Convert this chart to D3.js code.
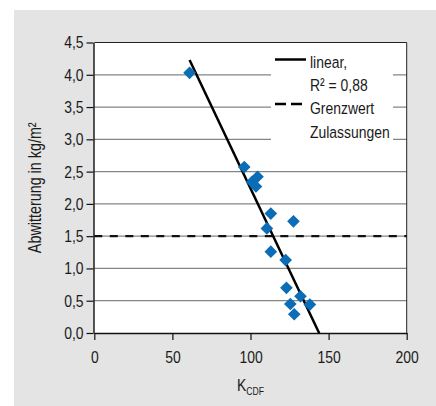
<!DOCTYPE html>
<html>
<head>
<meta charset="utf-8">
<script src="https://cdn.jsdelivr.net/npm/d3@7"></script>
<style>
  html, body { margin: 0; padding: 0; background: #fff; }
  svg { display: block; }
  text { font-family: "Liberation Sans", Arial, sans-serif; fill: #1a1a1a; }
</style>
</head>
<body>
<svg id="chart" width="436" height="406"></svg>
<script>
// Measured samples: K_CDF vs. scaling (Abwitterung) in kg/m²
const kcdf        = [61, 96, 104.5, 101, 103.5, 113, 127.5, 110.5, 113, 122.5, 123, 132, 138, 125.5, 128];
const abwitterung = [4.03, 2.57, 2.42, 2.34, 2.27, 1.85, 1.73, 1.62, 1.26, 1.13, 0.70, 0.57, 0.44, 0.45, 0.29];

// Axis ticks
const xTicks = [0, 50, 100, 150, 200];
const yTicks = [0, 0.5, 1, 1.5, 2, 2.5, 3, 3.5, 4, 4.5];

// Linear fit (R² = 0,88) and its drawn range of K_CDF
const fitSlope = -0.051;
const fitIntercept = 7.34;
const fitRange = [61, 144];

// Limit value for approvals
const grenzwert = 1.5;

// Legend rows
const legendSolid = ["linear,", "R² = 0,88"];
const legendDashed = ["Grenzwert", "Zulassungen"];

const svg = d3.select("#chart");
const W = 436, H = 406;
const NARROW = 0.82;   // horizontal squeeze for a condensed type look
const FS = 17;

const x = d3.scaleLinear().domain([0, 200]).range([94.3, 406.7]);
const y = d3.scaleLinear().domain([0, 4.5]).range([333, 42.5]);

const de = d3.formatLocale({ decimal: ",", thousands: ".", grouping: [3], currency: ["", "€"] });
const fmtY = de.format(".1f");

// Condense a text element placed by its x attribute
function condense(sel) {
  sel.each(function () {
    const t = d3.select(this);
    const xv = +t.attr("x") || 0;
    t.attr("x", xv / NARROW).attr("transform", `scale(${NARROW},1)`);
  });
}

// Grey panel
svg.append("rect").attr("x", 14).attr("y", 10).attr("width", W - 14).attr("height", H - 10).attr("fill", "#e3e4e3");

// Plot area
const [x0, x1] = x.range();
const [yb, yt] = y.range();
svg.append("rect").attr("x", x0).attr("y", yt).attr("width", x1 - x0).attr("height", yb - yt).attr("fill", "#fff");

// Horizontal gridlines
svg.append("g").selectAll("line").data(yTicks.filter(v => v > 0 && v < 4.5)).join("line")
  .attr("x1", x0).attr("x2", x1)
  .attr("y1", d => y(d)).attr("y2", d => y(d))
  .attr("stroke", "#858585").attr("stroke-width", 1.2);

// Legend background (covers gridlines)
svg.append("rect").attr("x", 271).attr("y", yt + 1).attr("width", 122).attr("height", 99).attr("fill", "#fff");

// Frame: top and right
svg.append("line").attr("x1", x0).attr("x2", x1).attr("y1", yt).attr("y2", yt).attr("stroke", "#222").attr("stroke-width", 1);
svg.append("line").attr("x1", x1).attr("x2", x1).attr("y1", yt).attr("y2", yb).attr("stroke", "#222").attr("stroke-width", 1);

// Limit line
svg.append("line")
  .attr("x1", x0).attr("x2", x1)
  .attr("y1", y(grenzwert)).attr("y2", y(grenzwert))
  .attr("stroke", "#111").attr("stroke-width", 2.2).attr("stroke-dasharray", "8,7.5");

// Axes
const yAxis = svg.append("g").attr("transform", `translate(${x0 - 0.8},0)`)
  .call(d3.axisLeft(y).tickValues(yTicks).tickFormat(fmtY).tickSize(7).tickSizeOuter(0).tickPadding(3));
const xAxis = svg.append("g").attr("transform", `translate(0,${yb})`)
  .call(d3.axisBottom(x).tickValues(xTicks).tickFormat(d3.format("d")).tickSize(7).tickSizeOuter(0).tickPadding(11));
[yAxis, xAxis].forEach(g => {
  g.selectAll("path.domain").attr("stroke", "#111").attr("stroke-width", 1.4);
  g.selectAll(".tick line").attr("stroke", "#111").attr("stroke-width", 1.2);
  g.selectAll(".tick text").attr("font-size", FS).style("fill", "#1a1a1a").call(condense);
  g.attr("font-family", null);
});

// Regression line
const fitLine = d3.line().x(d => x(d)).y(d => y(fitSlope * d + fitIntercept));
svg.append("path").datum(fitRange).attr("d", fitLine)
  .attr("fill", "none").attr("stroke", "#000").attr("stroke-width", 2.5);

// Data points as diamonds
const diamond = d3.symbol().type(d3.symbolSquare).size(80);
svg.append("g").selectAll("path").data(d3.zip(kcdf, abwitterung)).join("path")
  .attr("d", diamond)
  .attr("transform", d => `translate(${x(d[0])},${y(d[1])}) rotate(45)`)
  .attr("fill", "#0b6db5");

// Legend
const lg = svg.append("g").attr("font-size", FS);
lg.append("line").attr("x1", 275).attr("x2", 306).attr("y1", 59.5).attr("y2", 59.5)
  .attr("stroke", "#000").attr("stroke-width", 2.5);
lg.append("line").attr("x1", 275).attr("x2", 302).attr("y1", 104).attr("y2", 104)
  .attr("stroke", "#000").attr("stroke-width", 2.5).attr("stroke-dasharray", "11,5");
lg.selectAll("text").data(legendSolid.concat(legendDashed)).join("text")
  .attr("transform", (d, i) => `translate(310,${67.5 + i * 23.4}) scale(${NARROW},1)`)
  .text(d => d);

// Axis titles
svg.append("text")
  .attr("transform", `translate(40.5,${(yb + yt) / 2}) rotate(-90) scale(${NARROW},1)`)
  .attr("text-anchor", "middle").attr("font-size", 17.5)
  .text("Abwitterung in kg/m²");

const xt = svg.append("text")
  .attr("transform", `translate(${(x0 + x1) / 2},391) scale(${NARROW},1)`)
  .attr("text-anchor", "middle").attr("font-size", FS);
xt.append("tspan").text("K");
xt.append("tspan").attr("font-size", 10.5).attr("dy", 4).text("CDF");
</script>
</body>
</html>
